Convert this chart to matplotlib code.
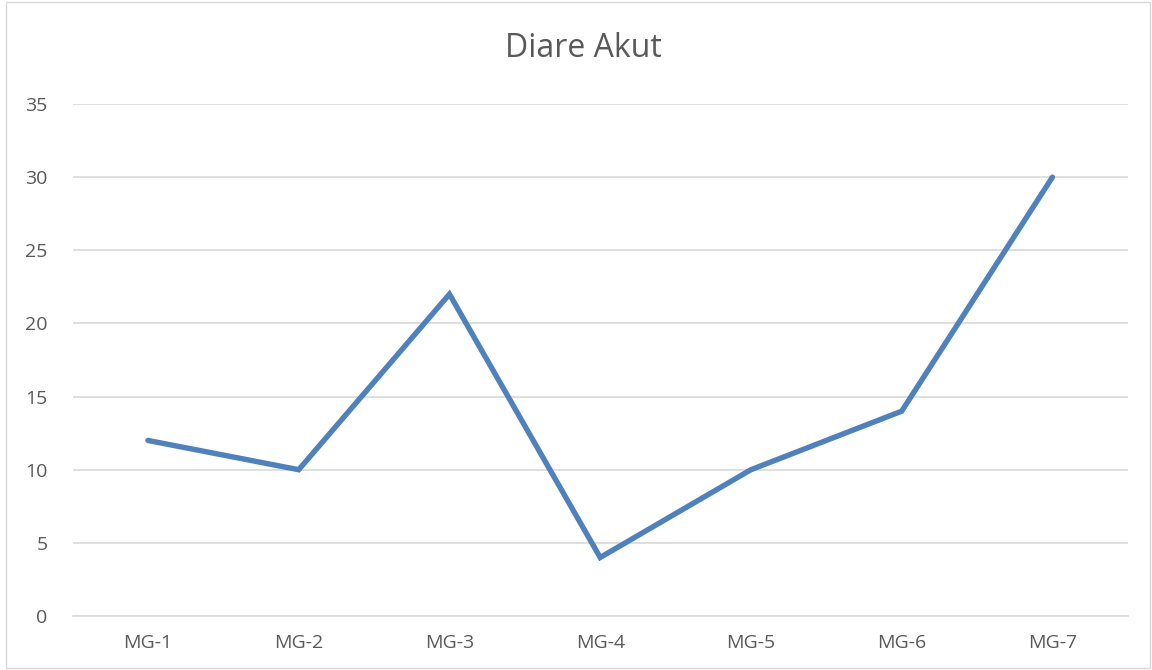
import matplotlib
matplotlib.use("Agg")
import matplotlib.pyplot as plt
from matplotlib.patches import Rectangle

categories = ["MG-1", "MG-2", "MG-3", "MG-4", "MG-5", "MG-6", "MG-7"]
values = [12, 10, 22, 4, 10, 14, 30]
yticks = [0, 5, 10, 15, 20, 25, 30, 35]

plt.rcParams['font.family'] = ['Open Sans', 'DejaVu Sans']

fig = plt.figure(figsize=(11.52, 6.70), dpi=100)
ax = fig.add_axes([0.063, 0.0806, 0.916, 0.7642])

x = list(range(len(categories)))
ax.plot(x, values, color='#4F81BD', linewidth=3.9, solid_capstyle='round',
        solid_joinstyle='miter')

ax.set_xlim(-0.5, len(categories) - 0.5)
ax.set_ylim(0, 35)
ax.set_yticks(yticks)
ax.set_xticks(x)
ax.set_xticklabels(categories)
ax.grid(axis='y', color='#D9D9D9', linewidth=1.2)
ax.set_axisbelow(True)
for s in ['top', 'right', 'left']:
    ax.spines[s].set_visible(False)
ax.spines['bottom'].set_color('#D9D9D9')
ax.spines['bottom'].set_linewidth(1.2)
ax.tick_params(length=0, labelsize=14, colors='#595959', pad=13)
ax.tick_params(axis='y', pad=18)

fig.text(0.506, 0.927, "Diare Akut", ha='center', va='center',
         fontsize=23, color='#595959')

fig.patches.append(Rectangle((0.005, 0.003), 0.993, 0.994, transform=fig.transFigure,
                             fill=False, edgecolor='#D9D9D9', linewidth=1))

fig.savefig("out.png", dpi=100)
